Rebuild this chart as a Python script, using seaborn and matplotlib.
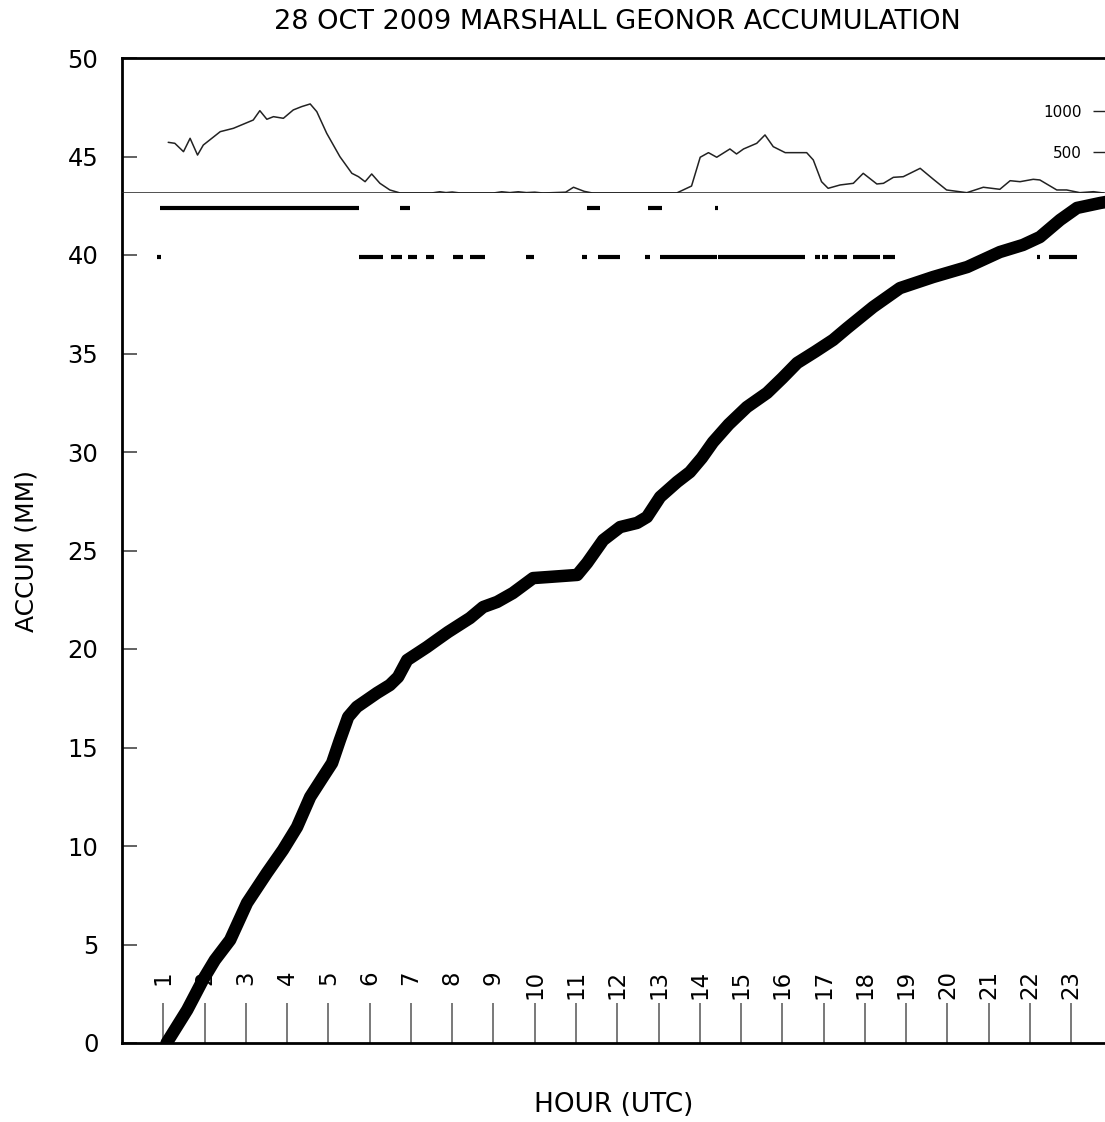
import matplotlib
matplotlib.use("Agg")
import matplotlib.pyplot as plt
import seaborn as sns
import pandas as pd

# ---------------- data ----------------
acc_hour = [1.08, 1.58, 1.96, 2.25, 2.62, 3.03, 3.51, 3.90, 4.24, 4.56, 4.87, 5.09,
            5.28, 5.48, 5.69, 6.18, 6.49, 6.69, 6.91, 7.39, 7.63, 7.90, 8.43, 8.75,
            9.09, 9.47, 9.96, 10.30, 11.03, 11.27, 11.66, 12.07, 12.48, 12.72, 13.04,
            13.45, 13.76, 14.05, 14.32, 14.70, 15.14, 15.63, 16.00, 16.36, 16.80, 17.23, 17.57,
            18.20, 18.85, 19.65, 20.48, 21.27, 21.83, 22.24, 22.73, 23.14, 23.70, 24.0]
acc_mm = [0.0, 1.68, 3.20, 4.21, 5.23, 7.11, 8.63, 9.80, 10.96, 12.49, 13.50, 14.21,
          15.38, 16.55, 17.06, 17.77, 18.17, 18.58, 19.44, 20.10, 20.46, 20.86, 21.57, 22.13,
          22.39, 22.84, 23.60, 23.65, 23.76, 24.37, 25.53, 26.19, 26.40, 26.70, 27.72,
          28.48, 28.98, 29.70, 30.50, 31.40, 32.28, 33.00, 33.75, 34.52, 35.10, 35.69, 36.29,
          37.36, 38.32, 38.88, 39.39, 40.15, 40.51, 40.91, 41.78, 42.39, 42.64, 42.75]

sig_hour = [1.12, 1.28, 1.49, 1.65, 1.83, 1.97, 2.38, 2.70, 3.18, 3.34, 3.51, 3.67,
            3.91, 4.15, 4.35, 4.56, 4.72, 4.96, 5.28, 5.57, 5.73, 5.89, 6.05, 6.25,
            6.49, 6.74, 7.50, 7.70, 7.85, 8.00, 8.20, 9.00, 9.20, 9.40, 9.60, 9.80,
            10.00, 10.20, 10.75, 10.94, 11.20, 11.40, 13.00, 13.44, 13.80, 14.01,
            14.21, 14.41, 14.73, 14.89, 15.06, 15.38, 15.58, 15.78, 16.07, 16.59,
            16.75, 16.95, 17.11, 17.40, 17.72, 17.96, 18.29, 18.45, 18.69, 18.93,
            19.34, 19.66, 19.98, 20.47, 20.87, 21.27, 21.52, 21.76, 22.08, 22.24,
            22.65, 22.89, 23.21, 23.54, 23.78]
sig_val = [618, 606, 504, 667, 463, 585, 748, 789, 890, 1004, 899, 931,
           911, 1013, 1053, 1086, 992, 728, 443, 240, 199, 138, 232, 118,
           37, 0, 0, 15, 5, 12, 0, 0, 15, 5, 15, 5,
           10, 0, 10, 70, 20, 0, 0, 0, 85, 436,
           492, 436, 537, 476, 537, 606, 708, 565, 492, 492,
           403, 138, 57, 98, 118, 240, 110, 118, 191, 199,
           301, 167, 37, 4, 70, 45, 150, 138, 167, 159,
           37, 37, 4, 16, 0]

flag1_level = 42.4
flag1_start = [0.92, 6.74, 11.26, 12.75, 14.37]
flag1_end = [5.75, 6.98, 11.58, 13.08, 14.45]

flag2_level = 39.9
flag2_start = [0.86, 5.75, 6.53, 6.94, 7.37, 8.01, 8.43, 9.79, 11.14, 11.54, 12.67,
               13.04, 14.45, 16.79, 16.95, 17.24, 17.72, 18.45, 22.18, 22.45]
flag2_end = [0.94, 6.33, 6.78, 7.14, 7.56, 8.26, 8.80, 9.99, 11.26, 12.07, 12.79,
             14.41, 16.55, 16.91, 17.11, 17.56, 18.37, 18.73, 22.25, 23.13]

hour_ticks = list(range(1, 24))
hour_labels = [str(h) for h in hour_ticks]
mm_ticks = [0, 5, 10, 15, 20, 25, 30, 35, 40, 45, 50]
sig_ticks = [500, 1000]

title = "28 OCT 2009 MARSHALL GEONOR ACCUMULATION"
xlabel = "HOUR (UTC)"
ylabel = "ACCUM (MM)"

# ---------------- style ----------------
sns.set_theme(style="white")
plt.rcParams["font.family"] = ["DejaVu Sans"]
plt.rcParams["text.color"] = "black"
plt.rcParams["axes.labelcolor"] = "black"
plt.rcParams["xtick.color"] = "black"
plt.rcParams["ytick.color"] = "black"

W, H = 1105, 1122
fig = plt.figure(figsize=(W / 100, H / 100), dpi=100)

x0, x1 = 122, 1112.5
y_top, y_bot = 58, 1043
y_base = 193
ax = fig.add_axes([x0 / W, (H - y_bot) / H, (x1 - x0) / W, (y_bot - y_top) / H])
ax_sig = fig.add_axes([x0 / W, (H - y_base) / H, (x1 - x0) / W, (y_base - y_top) / H])

# main accumulation
df_acc = pd.DataFrame({"hour": acc_hour, "mm": acc_mm})
sns.lineplot(data=df_acc, x="hour", y="mm", ax=ax, color="black", linewidth=9,
             estimator=None, sort=False, solid_joinstyle="round", solid_capstyle="round")

# flag rows
ax.hlines([flag1_level] * len(flag1_start), flag1_start, flag1_end,
          color="black", linewidth=3)
ax.hlines([flag2_level] * len(flag2_start), flag2_start, flag2_end,
          color="black", linewidth=3)

ax.set_xlim(0, 24)
ax.set_ylim(0, 50)
ax.set_xticks(hour_ticks)
ax.set_xticklabels(hour_labels)
ax.set_yticks(mm_ticks)
ax.tick_params(axis="x", direction="in", length=29, width=1.1, color="#555555",
               pad=-52.5, labelrotation=90, labelsize=16.5, bottom=True)
ax.tick_params(axis="y", direction="in", length=11, width=1.3, color="#555555",
               pad=17, labelsize=17.5, left=True)
for lab in ax.get_xticklabels():
    lab.set_verticalalignment("top")
ax.set_xlabel(xlabel, fontsize=19, labelpad=0)
ax.xaxis.label.set_verticalalignment("center")
ax.xaxis.set_label_coords((614 - x0) / (x1 - x0), -(1105 - y_bot) / (y_bot - y_top))
ax.set_ylabel(ylabel, fontsize=18)
ax.yaxis.label.set_verticalalignment("center")
ax.yaxis.set_label_coords(-(x0 - 27) / (x1 - x0), 0.5)
ax.set_title(title, fontsize=19.5, pad=21)
for side in ["left", "bottom", "top"]:
    ax.spines[side].set_color("black")
    ax.spines[side].set_linewidth(2)
ax.spines["right"].set_visible(False)

# top signal panel
df_sig = pd.DataFrame({"hour": sig_hour, "val": sig_val})
sns.lineplot(data=df_sig, x="hour", y="val", ax=ax_sig, color="#222222",
             linewidth=1.1, estimator=None, sort=False)
ax_sig.axhline(0, color="#222222", linewidth=1.1)
ax_sig.set_xlim(0, 24)
ax_sig.set_ylim(0, (y_base - y_top) * 500 / 41)
ax_sig.patch.set_alpha(0)
for s in ax_sig.spines.values():
    s.set_visible(False)
ax_sig.set_xticks([])
ax_sig.set_xlabel("")
ax_sig.set_ylabel("")
ax_sig.yaxis.tick_right()
ax_sig.set_yticks(sig_ticks)
ax_sig.tick_params(axis="y", direction="in", length=14.5, width=1.0, color="#222222",
                   pad=-22, labelsize=11, right=True, left=False)
for lab in ax_sig.get_yticklabels():
    lab.set_horizontalalignment("right")

fig.savefig("out.png", dpi=100)
